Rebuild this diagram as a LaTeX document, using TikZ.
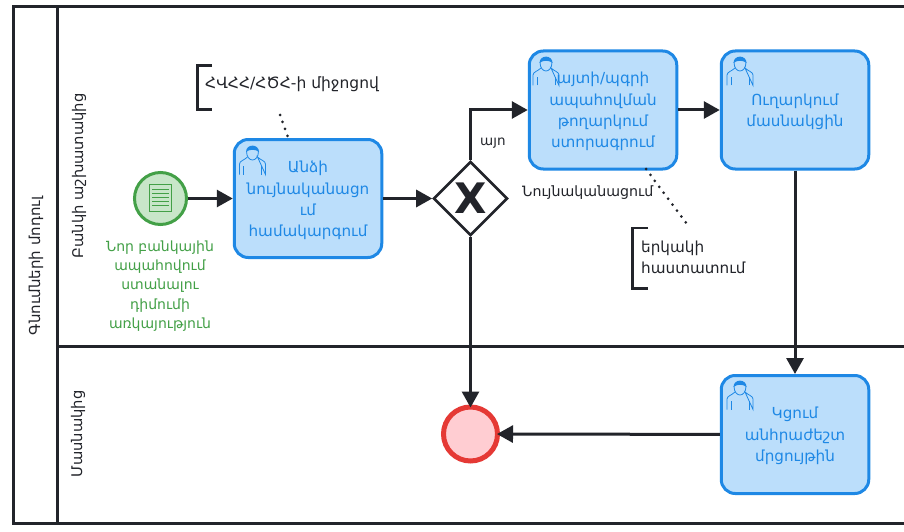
\documentclass[tikz,border=0pt]{standalone}
\usepackage{fontspec}
\setmainfont{DejaVu Sans}
\usetikzlibrary{arrows.meta,shapes.geometric}
\definecolor{ink}{HTML}{22242A}
\definecolor{taskline}{HTML}{1E88E5}
\definecolor{taskfill}{HTML}{BBDEFB}
\definecolor{startline}{HTML}{43A047}
\definecolor{startfill}{HTML}{C8E6C9}
\definecolor{endline}{HTML}{E53935}
\definecolor{endfill}{HTML}{FFCDD2}
\tikzset{
  pool/.style={draw=ink,line width=3pt},
  flow/.style={draw=ink,line width=3pt,-{Triangle[length=16pt,width=17pt]}},
  task/.style={draw=taskline,fill=taskfill,line width=3pt,rounded corners=14pt,minimum width=147.5pt,minimum height=118pt,inner sep=0pt,align=center,text=taskline,font=\fontsize{15.2}{21.3}\selectfont},
  tasktext/.style={text=taskline,align=center,font=\fontsize{15.2}{21.3}\selectfont,inner sep=0pt},
  lab/.style={text=ink,align=left,font=\fontsize{14.2}{21}\selectfont,inner sep=0pt},
  lanetext/.style={text=ink,rotate=90,font=\fontsize{14.7}{16}\selectfont,inner sep=0pt},
  assoc/.style={draw=ink,line width=3pt,dash pattern=on 0pt off 7.4pt,line cap=round},
  brk/.style={draw=ink,line width=2.6pt},
  person/.pic={
    \draw[taskline,line width=.8pt] (-13,29.5) -- (-13,19) .. controls (-13,16) and (-8,15) .. (-5,12) (5,12) .. controls (8,15) and (13,16) .. (13,19) -- (13,29.5) -- cycle;
    \draw[taskline,line width=.8pt] (-9,29.5) -- (-9,21) (9,29.5) -- (9,21);
    \draw[taskline,line width=.8pt] (-6,6) .. controls (-6,12) and (-3,15) .. (0,15) .. controls (3,15) and (6,12) .. (6,6);
    \fill[taskline] (-6.5,7) .. controls (-6.5,-1.5) and (6.5,-1.5) .. (6.5,7) .. controls (3,4) and (-3,4) .. cycle;
  }
}
\begin{document}
\begin{tikzpicture}[x=1pt,y=-1pt]
\useasboundingbox (0,0) rectangle (904,532);
\fill[white] (0,0) rectangle (904,532);
% pool
\draw[pool] (906,7) -- (13,7) -- (13,523) -- (906,523);
\draw[pool] (57,7) -- (57,523);
\draw[pool] (57,346) -- (906,346);
\node[lanetext,font=\fontsize{15}{16}\selectfont] (poolname) at (36,266) {Գնումների մոդուլ};
\node[lanetext] (laneA) at (79,176) {Բանկի աշխատակից};
\node[lanetext] (laneB) at (78,434) {Մասնակից};
% start
\node[circle,draw=startline,fill=startfill,line width=3pt,minimum size=52pt,inner sep=0pt] (start) at (160.5,198.5) {};
\draw[startline,line width=.9pt,fill=startfill] (149,184.5) rectangle (171.5,211);
\foreach \yy in {189,193,197,201,205}{\draw[startline,line width=.9pt] (152,\yy) -- (168.5,\yy);}
\node[text=startline,align=center,font=\fontsize{14}{19.3}\selectfont,inner sep=0pt,anchor=north] (startlabel) at (160,240.5) {Նոր բանկային\\ապահովում\\ստանալու\\դիմումի\\առկայություն};
% tasks
\node[task] (t1) at (308,198.5) {};
\node[task] (t2) at (603,110) {};
\node[task] (t3) at (795,110) {};
\node[task] (t4) at (795,434.5) {};
\node[tasktext] (t1text) at (308,200.5) {Անձի\\նույնականացո\\ւմ\\համակարգում};
\node[tasktext] (t2text) at (603,111.5) {այտի/պգրի\\ապահովման\\թողարկում\\ստորագրում};
\node[tasktext] (t3text) at (795,111.5) {Ուղարկում\\մասնակցին};
\node[tasktext] (t4text) at (795,436) {Կցում\\անհրաժեշտ\\մրցույթին};
\pic at (252.5,145) {person};
\pic at (546,56) {person};
\pic at (740,56) {person};
\pic at (740,380) {person};
% gateway
\node[diamond,aspect=1,draw=ink,fill=white,line width=2.6pt,minimum size=74pt,inner sep=0pt] (gw) at (470.5,198.5) {};
\node[text=ink,font=\fontsize{42}{42}\selectfont\bfseries,inner sep=0pt] (gwx) at (470.5,198.5) {X};
\node[lab,anchor=west] (gwlabel) at (522,193) {Նույնականացում};
% end
\node[circle,draw=endline,fill=endfill,line width=5pt,minimum size=54pt,inner sep=0pt] (endev) at (470.5,434) {};
% flows
\draw[flow] (start) -- (t1);
\draw[flow] (t1) -- (gw);
\draw[flow] (gw.north) |- (t2.west);
\draw[flow] (t2) -- (t3);
\draw[flow] (t3) -- (t4);
\draw[flow,shorten >=-3pt] (gw.south) -- (endev);
\draw[flow,shorten >=-3pt] (t4) -- (endev);
\node[lab,anchor=west,font=\fontsize{13.5}{16}\selectfont] (yes) at (480,143) {այո};
% annotations
\coordinate (a1) at (280,115);
\coordinate (a1t) at (289,140);
\coordinate (a2) at (690,228);
\coordinate (a2t) at (646,169);
\draw[brk] (212,65.5) -- (197.5,65.5) -- (197.5,109.5) -- (212,109.5);
\node[lab,anchor=west,font=\fontsize{15.5}{21}\selectfont] (note1) at (205,84) {ՀՎՀՀ/ՀԾՀ-ի միջոցով};
\draw[brk] (648,228) -- (632.5,228) -- (632.5,288.5) -- (648,288.5);
\node[lab,anchor=west,font=\fontsize{15.2}{21}\selectfont] (note2) at (641,257) {երկակի\\հաստատում};
\draw[assoc] (a1) -- (a1t);
\draw[assoc] (a2t) -- (a2);
\end{tikzpicture}
\end{document}
